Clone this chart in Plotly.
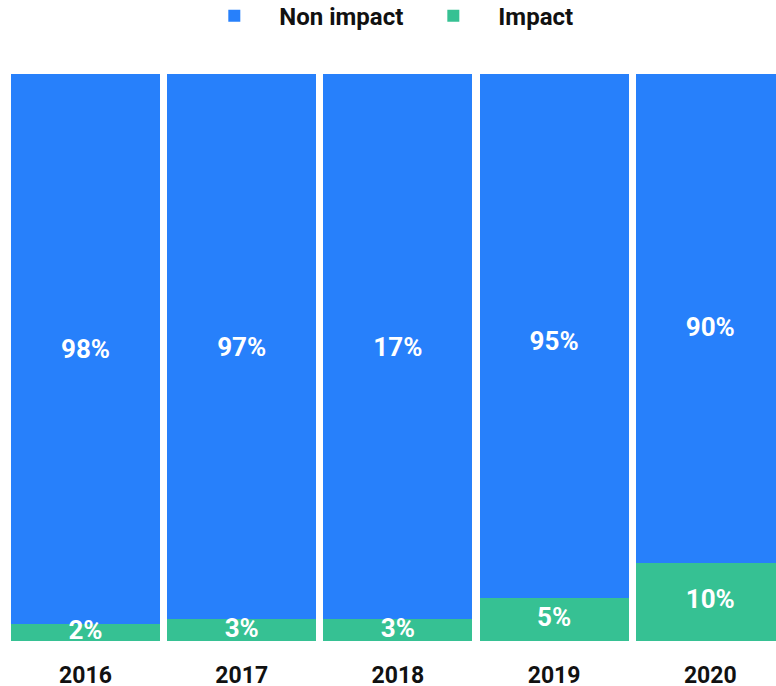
import plotly.graph_objects as go

# data
years = ['2016', '2017', '2018', '2019', '2020']
impact_height = [3.0, 3.8, 3.8, 7.6, 13.8]          # drawn green segment (% of bar)
non_impact_height = [97.0, 96.2, 96.2, 92.4, 86.2]  # drawn blue segment
impact_pct = [2, 3, 3, 5, 10]                        # labelled impact share
non_impact_labels = ['98%', '97%', '17%', '95%', '90%']
impact_labels = ['2%', '3%', '3%', '5%', '10%']

blue = '#2780fb'
green = '#36c193'
font_fam = 'Roboto, Arial, sans-serif'

fig = go.Figure()
fig.add_trace(go.Bar(x=years, y=impact_height, name='Impact', marker=dict(color=green, line=dict(width=0))))
fig.add_trace(go.Bar(x=years, y=non_impact_height, name='Non impact', marker=dict(color=blue, line=dict(width=0))))

# labels
fig.add_trace(go.Scatter(x=years, y=[50 + p / 2 for p in impact_pct], mode='text', text=non_impact_labels,
                         textfont=dict(family=font_fam, size=26, color='white', weight=700),
                         showlegend=False, hoverinfo='skip', cliponaxis=True))
fig.add_trace(go.Scatter(x=years, y=[h / 2 for h in impact_height], mode='text', text=impact_labels,
                         textfont=dict(family=font_fam, size=26, color='white', weight=700),
                         showlegend=False, hoverinfo='skip', cliponaxis=True))

fig.update_layout(
    barmode='stack', bargap=0.046,
    width=776, height=686,
    margin=dict(l=7, r=0, t=74, b=45, autoexpand=False),
    plot_bgcolor='white', paper_bgcolor='white',
    font=dict(family=font_fam, color='#111111'),
    legend=dict(orientation='h', x=0.49, xanchor='center', y=1.102, yanchor='middle',
                traceorder='reversed', font=dict(size=24, weight=700), itemwidth=80),
    xaxis=dict(range=[-0.5026, 4.4206], showgrid=False, zeroline=False, showline=False, automargin=False,
               tickfont=dict(size=23, weight=700, color='#111111'), ticklabelstandoff=18),
    yaxis=dict(range=[0, 100], visible=False),
)
# drop the default page margin so the figure fills the window exactly
fig.write_html('out.html', config={'displayModeBar': False},
               post_script="document.body.style.margin='0';document.body.style.overflow='hidden';")
